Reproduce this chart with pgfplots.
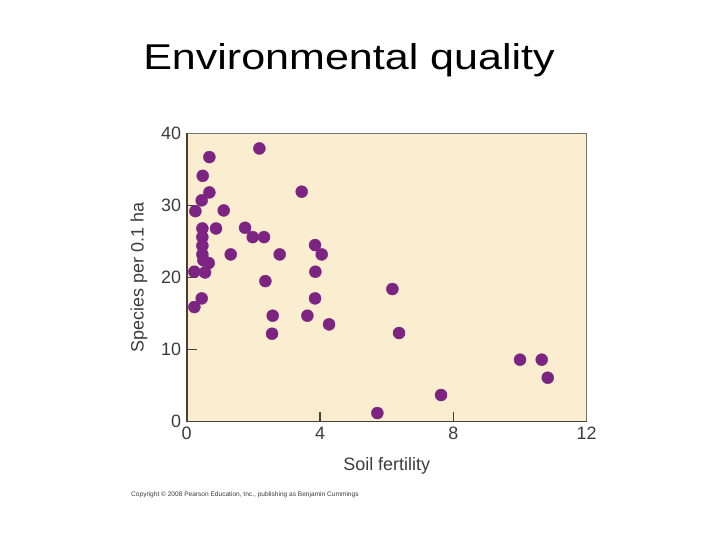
\documentclass[border=0pt]{standalone}
\usepackage{pgfplots}
\pgfplotsset{compat=1.18}
\usepackage{fontspec}
\setmainfont{Liberation Sans}
\newfontfamily\titlefont[FakeStretch=1.2]{Liberation Sans}
\definecolor{bgcream}{RGB}{251,237,207}
\definecolor{dotpurple}{RGB}{124,36,130}
\definecolor{framedark}{RGB}{70,62,55}
\definecolor{framegray}{RGB}{120,118,115}
\definecolor{ticktext}{RGB}{60,60,60}
\begin{document}
\begin{tikzpicture}[x=1bp,y=1bp]
\fill[white] (0,0) rectangle (720,540);
\useasboundingbox (0,0) rectangle (720,540);
\node[anchor=base, inner sep=0pt, font=\titlefont\fontsize{36}{40}\selectfont] at (349,470.7) {Environmental quality};
\node[anchor=west, inner sep=0pt, text=ticktext, font=\fontsize{6.6}{7}\selectfont] at (131,45) {Copyright \textcopyright{} 2008 Pearson Education, Inc., publishing as Benjamin Cummings};
\begin{axis}[
  at={(186.7bp,118.3bp)}, anchor=south west,
  scale only axis, width=400bp, height=288.4bp,
  xmin=0, xmax=12, ymin=0, ymax=40,
  xtick={0,4,8,12}, ytick={0,10,20,30,40},
  axis background/.style={fill=bgcream},
  axis line style={framegray, line width=0.8bp},
  tick align=inside, major tick length=10bp,
  every tick/.style={framedark, line width=1.3bp},
  xtick pos=bottom, ytick pos=left,
  /pgf/number format/assume math mode=true,
  ticklabel style={text=ticktext, font=\fontsize{18}{20}\selectfont},
  yticklabel style={xshift=-2bp},
  xticklabel style={yshift=-2bp},
  xlabel={Soil fertility},
  ylabel={Species per 0.1 ha},
  label style={text=ticktext, font=\fontsize{18}{20}\selectfont},
  xlabel style={yshift=-11bp},
  ylabel style={yshift=7bp},
  clip=false,
]
\draw[framedark, line width=1.6bp] (axis cs:0,40) -- (axis cs:0,0) -- (axis cs:12,0);
\addplot[only marks, mark=*, mark size=6bp, mark options={fill=dotpurple, draw=dotpurple}] coordinates {
(2.18,37.9) (0.68,36.7) (0.48,34.1) (0.68,31.8) (0.45,30.7) (0.26,29.2)
(1.11,29.3) (3.45,31.9) (0.47,26.8) (0.88,26.8) (1.75,26.9) (1.98,25.6)
(2.32,25.6) (0.47,25.6) (0.47,24.4) (0.47,23.2) (1.32,23.2) (2.79,23.2)
(3.85,24.5) (4.05,23.2) (0.66,22.0) (0.50,22.4) (0.23,20.8) (0.55,20.7)
(3.86,20.8) (2.36,19.5) (0.45,17.1) (0.23,15.9) (3.85,17.1) (2.58,14.7)
(3.62,14.7) (2.56,12.2) (4.27,13.5) (6.17,18.4) (6.37,12.3) (10.0,8.6)
(10.65,8.6) (10.83,6.1) (7.63,3.7) (5.72,1.2)
};
\end{axis}
\end{tikzpicture}
\end{document}
